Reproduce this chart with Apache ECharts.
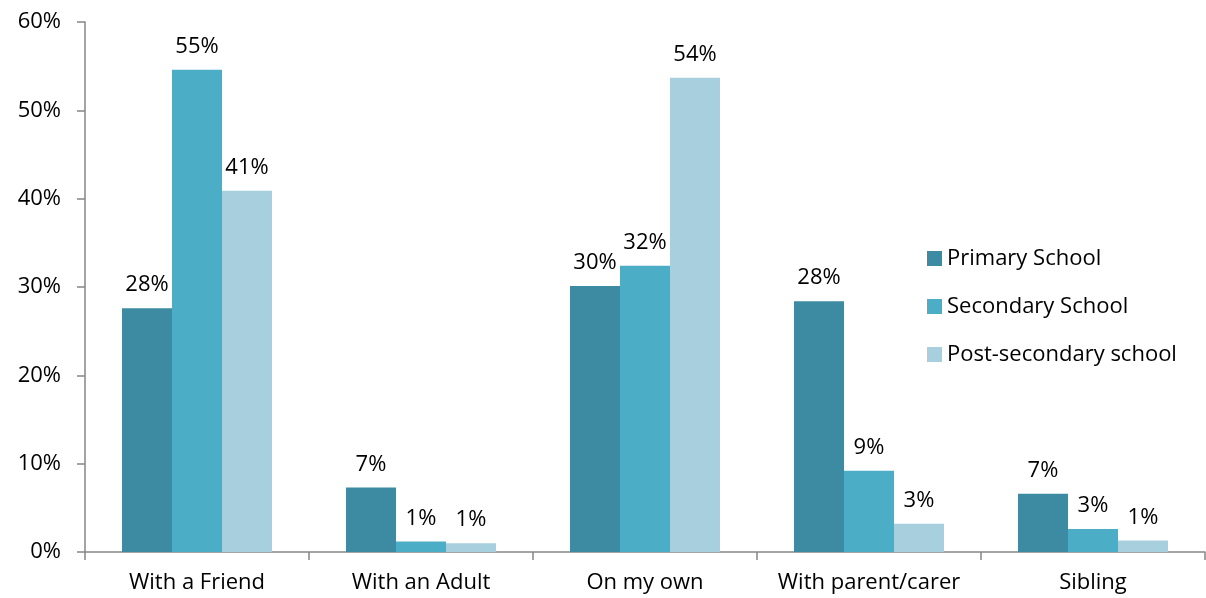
<!DOCTYPE html>
<html>
<head>
<meta charset="utf-8">
<script src="https://cdn.jsdelivr.net/npm/echarts@6/dist/echarts.min.js"></script>
<style>html,body{margin:0;padding:0;background:#fff;}#c{width:1206px;height:598px;}</style>
</head>
<body>
<div id="c"></div>
<script>
const categories = ["With a Friend", "With an Adult", "On my own", "With parent/carer", "Sibling"];
const primary = [27.6, 7.3, 30.1, 28.4, 6.6];
const secondary = [54.6, 1.2, 32.4, 9.2, 2.6];
const postSecondary = [40.9, 1.0, 53.7, 3.2, 1.3];
const seriesNames = ["Primary School", "Secondary School", "Post-secondary school"];
const yTicks = [0, 10, 20, 30, 40, 50, 60];

const font = "'Open Sans', 'Liberation Sans', sans-serif";
const colors = ["#3d8ba2", "#4badc6", "#a8cfdd"];
const fs = 22;

function mk(name, data, color) {
  return {
    name: name, type: 'bar', data: data, barWidth: 50, barGap: '0%',
    itemStyle: { color: color },
    label: {
      show: true, position: 'top', distance: 12,
      formatter: p => Math.round(p.value) + '%',
      color: '#000', fontSize: fs, fontFamily: font
    }
  };
}

const chart = echarts.init(document.getElementById('c'));
chart.setOption({
  animation: false,
  color: colors,
  textStyle: { fontFamily: font },
  grid: { left: 85, right: 1, top: 22, bottom: 46, containLabel: false },
  legend: {
    orient: 'vertical', left: 922, top: 242,
    itemWidth: 15, itemHeight: 15, itemGap: 25,
    icon: 'rect',
    textStyle: { fontSize: fs, color: '#000', fontFamily: font, lineHeight: 23 },
    data: seriesNames
  },
  xAxis: {
    type: 'category', data: categories,
    axisLine: { lineStyle: { color: '#868686', width: 1.5 } },
    axisTick: { show: true, length: 8, alignWithLabel: false, lineStyle: { color: '#868686', width: 1.5 } },
    axisLabel: { color: '#000', fontSize: fs, fontFamily: font, margin: 20, interval: 0 }
  },
  yAxis: {
    type: 'value', min: yTicks[0], max: yTicks[yTicks.length - 1], interval: 10,
    axisLine: { show: true, lineStyle: { color: '#868686', width: 1.5 } },
    axisTick: { show: true, length: 8, lineStyle: { color: '#868686', width: 1.5 } },
    splitLine: { show: false },
    axisLabel: { color: '#000', fontSize: fs, fontFamily: font, margin: 24, formatter: v => v + '%' }
  },
  series: [
    mk(seriesNames[0], primary, colors[0]),
    mk(seriesNames[1], secondary, colors[1]),
    mk(seriesNames[2], postSecondary, colors[2])
  ]
});
</script>
</body>
</html>
